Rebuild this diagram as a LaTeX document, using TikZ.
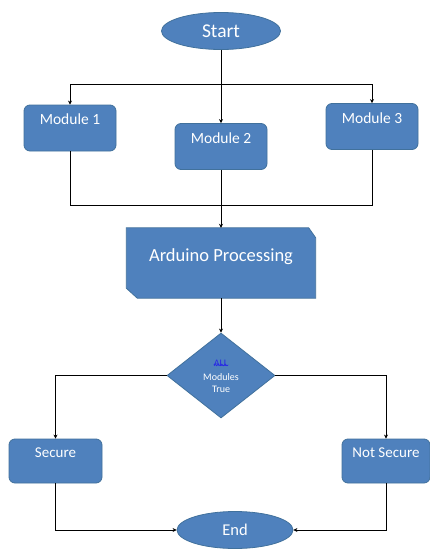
\documentclass[tikz,border=0pt]{standalone}
\usepackage{fontspec}
\setmainfont{Carlito}
\usetikzlibrary{shapes.geometric,arrows.meta,decorations.pathmorphing}
\definecolor{boxfill}{RGB}{79,129,189}
\definecolor{boxline}{RGB}{65,113,156}
\definecolor{squig}{RGB}{40,40,230}
\begin{document}
\begin{tikzpicture}[x=1pt,y=-1pt,
  shapebase/.style={fill=boxfill,draw=boxline,line width=0.8pt,text=white,inner sep=0pt},
  oval/.style={shapebase,ellipse},
  modbox/.style={shapebase,rectangle,rounded corners=6pt,minimum width=92pt,minimum height=46pt,text height=11pt,text depth=18pt},
  resbox/.style={shapebase,rectangle,rounded corners=6pt,minimum height=44pt,text height=10pt,text depth=17pt},
  conn/.style={draw=black,line width=0.8pt},
  arr/.style={conn,-{Stealth[length=4pt,width=4pt]}}]
\useasboundingbox (0,0) rectangle (430,549);
\fill[white] (0,0) rectangle (430,549);
% nodes
\node[oval,minimum width=119pt,minimum height=37pt,font=\fontsize{19.5}{21}\selectfont] (start) at (221,31) {Start};
\node[modbox,font=\fontsize{15.5}{17}\selectfont] (m1) at (70,128) {Module 1};
\node[modbox,font=\fontsize{15.5}{17}\selectfont] (m2) at (221,146.5) {Module 2};
\node[modbox,font=\fontsize{15.5}{17}\selectfont] (m3) at (372,126.5) {Module 3};
\node[rectangle,minimum width=189pt,minimum height=70pt,inner sep=0pt] (ard) at (221,263) {};
\filldraw[fill=boxfill,draw=boxline,line width=0.8pt]
  (ard.north west) -- ([xshift=-7pt]ard.north east) -- ([yshift=-10pt]ard.north east)
  -- (ard.south east) -- ([xshift=11pt]ard.south west) -- ([yshift=10pt]ard.south west) -- cycle;
\node[text=white,font=\fontsize{18.5}{21}\selectfont] (ardtxt) at (221,257) {Arduino Processing};
\node[shapebase,diamond,minimum width=108pt,minimum height=85pt,aspect=1.27] (dia) at (221,375.5) {};
\node[text=squig,font=\fontsize{10}{11}\selectfont,inner sep=0pt] (all) at (221,363) {ALL};
\draw[squig,line width=0.6pt,decorate,decoration={snake,amplitude=0.9pt,segment length=3.5pt}] ([yshift=1.5pt]all.south west) -- ([yshift=1.5pt]all.south east);
\node[text=white,font=\fontsize{10}{11}\selectfont,inner sep=0pt] (mods) at (221,377) {Modules};
\node[text=white,font=\fontsize{10}{11}\selectfont,inner sep=0pt] (tru) at (221,389.5) {True};
\node[resbox,minimum width=93pt,font=\fontsize{15}{17}\selectfont] (sec) at (55.5,461) {Secure};
\node[resbox,minimum width=88pt,font=\fontsize{15}{17}\selectfont] (nsec) at (386,461) {Not Secure};
\node[oval,minimum width=116pt,minimum height=37pt,font=\fontsize{16.5}{18}\selectfont] (end) at (235,530) {End};
% junctions
\coordinate (j1) at (221,84);
\coordinate (j2) at (221,205);
% connectors
\draw[arr] (start.south) -- (m2.north);
\draw[arr] (j1) -| (m1.north);
\draw[arr] (j1) -| (m3.north);
\draw[conn] (m1.south) |- (j2);
\draw[conn] (m3.south) |- (j2);
\draw[arr] (m2.south) -- (ard.north);
\draw[arr] (ard.south) -- (dia.north);
\draw[arr] (dia.west) -| (sec.north);
\draw[arr] (dia.east) -| (nsec.north);
\draw[arr] (sec.south) |- (end.west);
\draw[arr] (nsec.south) |- (end.east);
\end{tikzpicture}
\end{document}
